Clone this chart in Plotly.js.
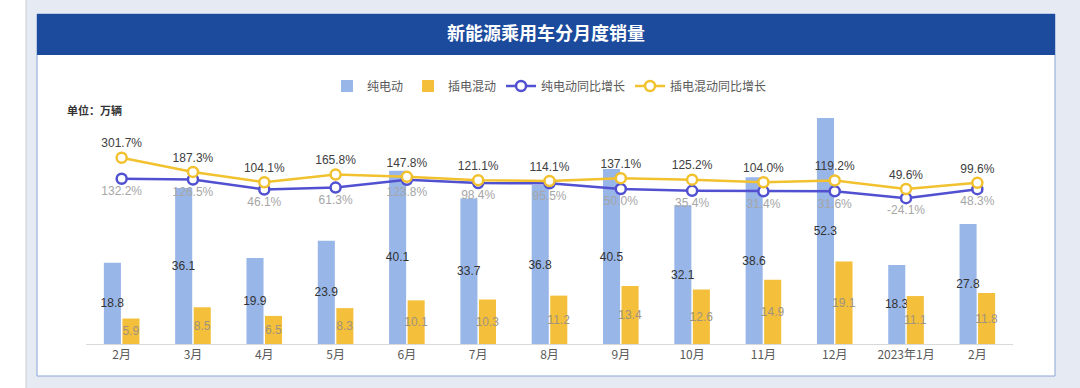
<!DOCTYPE html>
<html><head><meta charset="utf-8">
<script src="https://cdn.plot.ly/plotly-3.0.1.min.js"></script>
<style>html,body{margin:0;padding:0;background:#fff}#chart{width:1080px;height:388px}</style>
</head><body><div id="chart"></div>
<script>
const months = ['2月','3月','4月','5月','6月','7月','8月','9月','10月','11月','12月','2023年1月','2月'];
const bev = [18.8,36.1,19.9,23.9,40.1,33.7,36.8,40.5,32.1,38.6,52.3,18.3,27.8];
const phev = [5.9,8.5,6.5,8.3,10.1,10.3,11.2,13.4,12.6,14.9,19.1,11.1,11.8];
const bevYoY = [132.2,126.5,46.1,61.3,123.8,98.4,95.5,50.0,35.4,31.4,31.6,-24.1,48.3];
const phevYoY = [301.7,187.3,104.1,165.8,147.8,121.1,114.1,137.1,125.2,104.0,119.2,49.6,99.6];

const idx = months.map((m,i)=>i);
const fmt1 = v => v.toFixed(1);
const pct = v => v.toFixed(1)+'%';

const traces = [
  {type:'bar', name:'纯电动', x:idx, y:bev, marker:{color:'#98b6e8'},
   text:bev.map(fmt1), textposition:'inside', insidetextanchor:'middle', textangle:0, constraintext:'none',
   insidetextfont:{color:'#333333', size:12, family:'Liberation Sans, Arial, sans-serif'}, hoverinfo:'skip'},
  {type:'bar', name:'插电混动', x:idx, y:phev, marker:{color:'#f4bf3a'},
   text:phev.map(fmt1), textposition:'inside', insidetextanchor:'middle', textangle:0, constraintext:'none',
   insidetextfont:{color:'#9e9480', size:12, family:'Liberation Sans, Arial, sans-serif'}, hoverinfo:'skip'},
  {type:'scatter', mode:'lines+markers+text', name:'纯电动同比增长', x:idx, y:bevYoY, yaxis:'y2',
   line:{color:'#5050d0', width:2.5}, marker:{symbol:'circle', size:10, color:'#ffffff', line:{color:'#5050d0', width:2.5}},
   text:bevYoY.map(pct), textposition:'bottom center', textfont:{color:'#a6a6a6', size:12, family:'Liberation Sans, Arial, sans-serif'}, hoverinfo:'skip'},
  {type:'scatter', mode:'lines+markers+text', name:'插电混动同比增长', x:idx, y:phevYoY, yaxis:'y2',
   line:{color:'#f2c12e', width:2.5}, marker:{symbol:'circle', size:10, color:'#ffffff', line:{color:'#f2c12e', width:2.5}},
   text:phevYoY.map(pct), textposition:'top center', textfont:{color:'#404040', size:12, family:'Liberation Sans, Arial, sans-serif'}, hoverinfo:'skip'}
];

const L=86, R=1013, B=344, T=110;
const W=R-L, H=B-T;
const xp = px => (px-L)/W;
const yp = py => (B-py)/H;

const layout = {
  width:1080, height:388,
  margin:{l:L, r:1080-R, t:T, b:388-B, pad:0},
  paper_bgcolor:'#ffffff', plot_bgcolor:'rgba(0,0,0,0)',
  font:{family:'Noto Sans CJK SC, sans-serif', color:'#595959'},
  title:{text:'<b>新能源乘用车分月度销量</b>', font:{size:18, color:'#ffffff', family:'Noto Sans CJK SC, sans-serif'},
         x:546/1080, xref:'container', xanchor:'center', y:1-34/388, yref:'container', yanchor:'middle'},
  barmode:'group', bargap:0.48, bargroupgap:0.08,
  showlegend:true,
  legend:{orientation:'h', x:0.5, xanchor:'center', y:yp(86), yanchor:'middle',
          font:{size:12, color:'#595959'}, bgcolor:'rgba(0,0,0,0)', traceorder:'normal'},
  xaxis:{range:[-0.5,12.5], tickvals:idx, ticktext:months, showline:true, linecolor:'#d9d9d9', linewidth:1,
         ticks:'', showgrid:false, zeroline:false, tickfont:{size:12, color:'#595959'}, fixedrange:true},
  yaxis:{range:[0, H/4.32], showgrid:false, zeroline:false, showticklabels:false, showline:false, fixedrange:true},
  yaxis2:{overlaying:'y', side:'right', range:[-(B-195.2)/0.1242, (195.2-T)/0.1242], showgrid:false, zeroline:false,
          showticklabels:false, showline:false, fixedrange:true},
  shapes:[
    {type:'rect', xref:'paper', yref:'paper', x0:xp(26), x1:xp(1080), y0:yp(388), y1:yp(0), fillcolor:'#e6eaf2', line:{width:0}, layer:'below'},
    {type:'line', xref:'paper', yref:'paper', x0:xp(26), x1:xp(26), y0:yp(388), y1:yp(0), line:{color:'#c9ccd3', width:1}, layer:'below'},
    {type:'rect', xref:'paper', yref:'paper', x0:xp(37), x1:xp(1055), y0:yp(376), y1:yp(14), fillcolor:'#ffffff', line:{color:'#8aa4d6', width:1}, layer:'below'},
    {type:'rect', xref:'paper', yref:'paper', x0:xp(37), x1:xp(1055), y0:yp(55), y1:yp(14), fillcolor:'#1c4a9c', line:{width:0}, layer:'below'}
  ],
  annotations:[
    {xref:'paper', yref:'paper', x:xp(65), y:yp(110), xanchor:'left', yanchor:'middle', showarrow:false,
     text:'<b>单位：万辆</b>', font:{size:11, color:'#333333'}}
  ]
};

Plotly.newPlot('chart', traces, layout, {displayModeBar:false, staticPlot:true});
</script></body></html>
